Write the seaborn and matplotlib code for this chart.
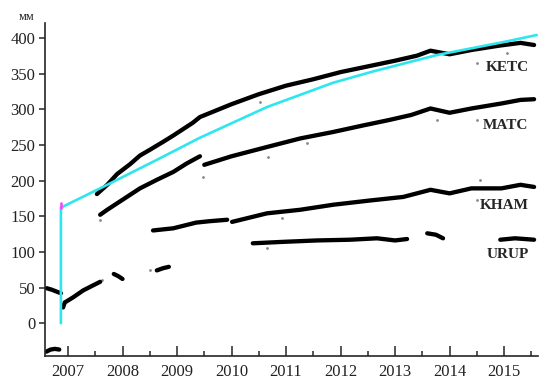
import pandas as pd
import numpy as np
import matplotlib.pyplot as plt
import seaborn as sns

sns.set_style("ticks")
plt.rcParams['font.family'] = ['Liberation Serif', 'DejaVu Serif']

# GPS series (decimal year, mm); each list is one unbroken segment
pre_a_years = [2006.61, 2006.70, 2006.80, 2006.87]
pre_a_mm = [49, 47, 44, 42]
pre_b_years = [2006.60, 2006.68, 2006.76, 2006.84]
pre_b_mm = [-40, -37, -36, -37]

low1_years = [2006.91, 2006.94, 2007.09, 2007.28, 2007.46, 2007.59]
low1_mm = [22, 29, 36, 46, 53, 58]
low2_years = [2007.84, 2007.92, 2008.00]
low2_mm = [69, 66, 62]
low3_years = [2008.63, 2008.74, 2008.85]
low3_mm = [74, 77, 79]

ketc_years = [2007.53, 2007.72, 2007.90, 2008.14, 2008.32, 2008.50, 2008.74, 2008.93,
              2009.11, 2009.29, 2009.42, 2010.00, 2010.50, 2011.00, 2011.50, 2012.00,
              2012.50, 2013.00, 2013.40, 2013.65, 2014.00, 2014.40, 2014.90, 2015.30, 2015.55]
ketc_mm = [181, 194, 209, 223, 235, 243, 254, 263, 272, 281, 289, 307, 321, 333, 342, 352,
           360, 368, 375, 382, 377, 383, 389, 393, 390]

matc1_years = [2007.59, 2007.72, 2008.00, 2008.32, 2008.63, 2008.93, 2009.18, 2009.42]
matc1_mm = [152, 159, 173, 189, 201, 212, 224, 234]
matc2_years = [2009.50, 2010.00, 2010.65, 2011.26, 2011.86, 2012.40, 2012.90, 2013.30,
               2013.65, 2014.00, 2014.40, 2014.95, 2015.30, 2015.55]
matc2_mm = [222, 234, 247, 259, 268, 277, 285, 292, 301, 295, 301, 308, 313, 314]

kham1_years = [2008.56, 2008.93, 2009.35, 2009.60, 2009.92]
kham1_mm = [130, 133, 141, 143, 145]
kham2_years = [2010.01, 2010.65, 2011.26, 2011.86, 2012.54, 2013.15, 2013.65, 2014.00,
               2014.40, 2014.95, 2015.30, 2015.55]
kham2_mm = [142, 154, 159, 166, 172, 177, 187, 182, 189, 189, 194, 191]

urup1_years = [2010.39, 2010.94, 2011.57, 2012.17, 2012.67, 2013.00, 2013.22]
urup1_mm = [112, 114, 116, 117, 119, 116, 118]
urup2_years = [2013.59, 2013.75, 2013.88]
urup2_mm = [126, 124, 119]
urup3_years = [2014.93, 2015.20, 2015.55]
urup3_mm = [117, 119, 117]

# scattered outliers
dot_years = [2007.59, 2007.62, 2008.50, 2009.48, 2010.52, 2010.65, 2010.67, 2010.93,
             2011.38, 2013.77, 2014.50, 2014.50, 2014.50, 2014.56, 2015.05]
dot_mm = [145, 60, 74, 205, 310, 105, 233, 147, 253, 285, 365, 285, 173, 201, 379]

# model curve (cyan), starts with the coseismic jump
fit_years = [2006.87, 2006.87, 2007.72, 2008.63, 2009.42, 2010.65, 2011.86, 2012.60,
             2013.77, 2014.98, 2015.60]
fit_mm = [0, 162, 194, 229, 260, 303, 337, 353, 376, 394, 404]
jump_years = [2006.87, 2006.87]
jump_mm = [162, 169]

station_labels = ["KETC", "MATC", "KHAM", "URUP"]
label_mm = [358, 277, 165, 96]
year_ticks = list(range(2007, 2016))
mm_ticks = list(range(0, 401, 50))

segments = [
    (pre_a_years, pre_a_mm), (pre_b_years, pre_b_mm),
    (low1_years, low1_mm), (low2_years, low2_mm), (low3_years, low3_mm),
    (ketc_years, ketc_mm), (matc1_years, matc1_mm), (matc2_years, matc2_mm),
    (kham1_years, kham1_mm), (kham2_years, kham2_mm),
    (urup1_years, urup1_mm), (urup2_years, urup2_mm), (urup3_years, urup3_mm),
]
rows = []
for i, (ys, vs) in enumerate(segments):
    for y, v in zip(ys, vs):
        rows.append({"year": y, "mm": v, "seg": i})
gps = pd.DataFrame(rows)

fig = plt.figure(figsize=(5.5, 3.88), dpi=100)
ax = fig.add_axes([0.082, 0.0825, 0.896, 0.8585])

sns.lineplot(data=gps, x="year", y="mm", units="seg", estimator=None, color="black",
             lw=3.1, solid_capstyle="round", ax=ax, legend=False)
sns.scatterplot(x=dot_years, y=dot_mm, color="#888888", s=4, linewidth=0, ax=ax)
ax.plot(fit_years, fit_mm, color="#2ee6ee", lw=1.9)
ax.plot(jump_years, jump_mm, color="#ff40ff", lw=1.9)

for name, v in zip(station_labels, label_mm):
    ax.text(2015.45, v, name, ha="right", va="center", fontsize=11, fontweight="bold")

ax.set_xlim(2006.58, 2015.62)
ax.set_ylim(-46, 421)
ax.set_xticks(year_ticks)
ax.set_xticks([y + 0.5 for y in year_ticks], minor=True)
ax.set_yticks(mm_ticks)
ax.tick_params(axis="x", which="major", direction="in", length=7, width=1.1,
               labelsize=12, pad=6, labelcolor="#222222")
ax.tick_params(axis="x", which="minor", direction="in", length=3.5, width=1.1)
ax.tick_params(axis="y", direction="out", length=4, width=1.1, labelsize=12, pad=3,
               labelcolor="#222222")
ax.set_xlabel("")
ax.set_ylabel("")
for side in ["top", "right"]:
    ax.spines[side].set_visible(False)
for side in ["left", "bottom"]:
    ax.spines[side].set_linewidth(1.2)

fig.text(27 / 550, 1 - 17 / 388, "мм", ha="center", va="center", fontsize=9)

fig.savefig("out.png", dpi=100)
